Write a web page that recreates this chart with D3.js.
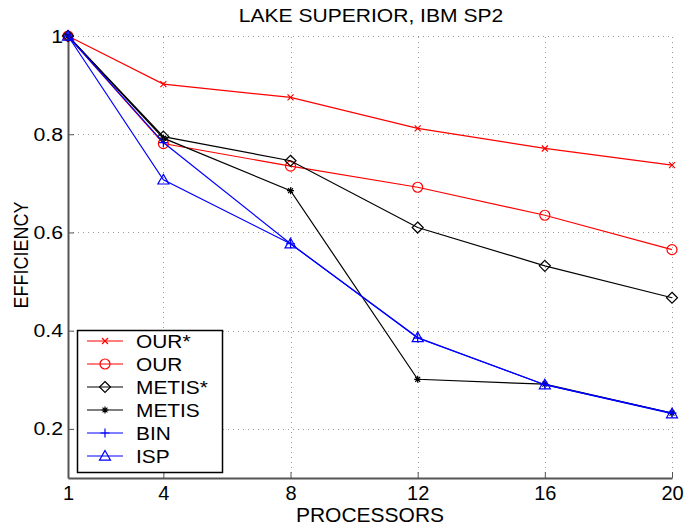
<!DOCTYPE html>
<html>
<head>
<meta charset="utf-8">
<script src="https://cdn.jsdelivr.net/npm/d3@7"></script>
<style>
  body { margin: 0; background: #fff; }
  text { font-family: "Liberation Sans", Arial, sans-serif; }
</style>
</head>
<body>
<div id="chart"></div>
<script>
const processors = [1, 4, 8, 12, 16, 20];
const xTicks = [1, 4, 8, 12, 16, 20];
const yTicks = [0.2, 0.4, 0.6, 0.8, 1];

const ourStar = [1, 0.902, 0.875, 0.812, 0.771, 0.737];
const our = [1, 0.781, 0.735, 0.692, 0.635, 0.565];
const metisStar = [1, 0.795, 0.746, 0.610, 0.532, 0.467];
const metis = [1, 0.792, 0.685, 0.301, 0.291, 0.232];
const bin = [1, 0.783, 0.577, 0.385, 0.290, 0.232];
const isp = [1, 0.707, 0.577, 0.386, 0.290, 0.231];

const seriesNames = ["OUR*", "OUR", "METIS*", "METIS", "BIN", "ISP"];
const seriesValues = [ourStar, our, metisStar, metis, bin, isp];
const seriesColors = ["#ff0000", "#ff0000", "#000000", "#000000", "#0000ff", "#0000ff"];
const seriesMarkers = ["x", "circle", "diamond", "star", "plus", "triangle"];

const W = 684, H = 527;
const margin = { top: 36, right: 12, bottom: 49, left: 68 };

const svg = d3.select("#chart").append("svg")
  .attr("width", W).attr("height", H);

const x = d3.scaleLinear().domain([1, 20]).range([margin.left, W - margin.right]);
const y = d3.scaleLinear().domain([0.1, 1]).range([H - margin.bottom, margin.top]);

// text that is a bit wider than the font gives (the picture is stretched sideways)
function hText(parent, tx, ty, str, size, sx, anchor) {
  return parent.append("text")
    .attr("transform", `translate(${tx},${ty}) scale(${sx},1)`)
    .attr("text-anchor", anchor || "start")
    .attr("font-size", size).text(str);
}

// grid
const grid = svg.append("g")
  .attr("stroke", "#999").attr("stroke-width", 1)
  .attr("stroke-dasharray", "1,4");
grid.selectAll(".gx").data(xTicks.slice(1)).join("line")
  .attr("x1", d => Math.round(x(d)) + 0.5).attr("x2", d => Math.round(x(d)) + 0.5)
  .attr("y1", y(0.1)).attr("y2", y(1));
grid.selectAll(".gy").data(yTicks).join("line")
  .attr("y1", d => Math.round(y(d)) + 0.5).attr("y2", d => Math.round(y(d)) + 0.5)
  .attr("x1", x(1)).attr("x2", x(20));

// axes
const xAxis = svg.append("g")
  .attr("transform", `translate(0,${y(0.1)})`)
  .call(d3.axisBottom(x).tickValues(xTicks).tickSizeInner(-6).tickSizeOuter(0).tickPadding(8));
const yAxis = svg.append("g")
  .attr("transform", `translate(${x(1)},0)`)
  .call(d3.axisLeft(y).tickValues(yTicks).tickSizeInner(-6).tickSizeOuter(0).tickPadding(5)
    .tickFormat(d => d === 1 ? "1" : d3.format(".1f")(d)));
[xAxis, yAxis].forEach(a => {
  a.select(".domain").attr("stroke", "#555").attr("stroke-width", 2);
  a.selectAll(".tick line").attr("stroke", "#555");
  a.selectAll(".tick text").attr("fill", "#000")
    .style("font-family", "Liberation Sans, Arial, sans-serif");
});
xAxis.selectAll(".tick text").attr("font-size", 20);
yAxis.selectAll(".tick text").attr("font-size", 19)
  .attr("transform", "scale(1.12,1)")
  .attr("x", -5 / 1.12);

// markers
function drawMarker(g, type, color) {
  const st = m => m.attr("stroke", color).attr("fill", "none").attr("stroke-width", 1.2);
  if (type === "x") {
    const s = 3;
    st(g.append("path").attr("d", `M${-s},${-s}L${s},${s}M${-s},${s}L${s},${-s}`));
  } else if (type === "circle") {
    st(g.append("circle").attr("r", 5));
  } else if (type === "diamond") {
    const r = 5.5;
    st(g.append("path").attr("d", `M0,${-r}L${r},0L0,${r}L${-r},0Z`));
  } else if (type === "star") {
    const r = 3.5;
    st(g.append("path").attr("d", `M${-r},0L${r},0M0,${-r}L0,${r}M${-r*0.7},${-r*0.7}L${r*0.7},${r*0.7}M${-r*0.7},${r*0.7}L${r*0.7},${-r*0.7}`));
  } else if (type === "plus") {
    const r = 4.5;
    st(g.append("path").attr("d", `M${-r},0L${r},0M0,${-r}L0,${r}`));
  } else if (type === "triangle") {
    const r = 5.5;
    st(g.append("path").attr("d", `M0,${-r}L${r},${r*0.75}L${-r},${r*0.75}Z`));
  }
}

const line = d3.line().x((d, i) => x(processors[i])).y(d => y(d));

seriesValues.forEach((vals, k) => {
  const g = svg.append("g");
  g.append("path").datum(vals).attr("d", line)
    .attr("fill", "none").attr("stroke", seriesColors[k]).attr("stroke-width", 1.2);
  vals.forEach((v, i) => {
    const mg = g.append("g").attr("transform", `translate(${x(processors[i])},${y(v)})`);
    drawMarker(mg, seriesMarkers[k], seriesColors[k]);
  });
});

// legend
const legend = svg.append("g").attr("transform", "translate(77,330)");
legend.append("rect").attr("x", 0.5).attr("y", 0.5).attr("width", 145).attr("height", 142)
  .attr("fill", "#fff").attr("stroke", "#000").attr("stroke-width", 1.5);
seriesNames.forEach((name, k) => {
  const ly = 11 + k * 23;
  const row = legend.append("g").attr("transform", `translate(0,${ly})`);
  row.append("line").attr("x1", 10).attr("x2", 46).attr("y1", 0).attr("y2", 0)
    .attr("stroke", seriesColors[k]).attr("stroke-width", 1.2);
  const mg = row.append("g").attr("transform", "translate(28,0)");
  drawMarker(mg, seriesMarkers[k], seriesColors[k]);
  hText(row, 59, 6.5, name, 18, 1.16);
});

// titles
hText(svg, 371, 22, "LAKE SUPERIOR, IBM SP2", 18, 1.17, "middle");
hText(svg, 370, 522, "PROCESSORS", 20, 1.05, "middle");
svg.append("text").attr("transform", "translate(28,255) scale(1.15,1) rotate(-90)").attr("text-anchor", "middle")
  .attr("font-size", 18).text("EFFICIENCY");
</script>
</body>
</html>
